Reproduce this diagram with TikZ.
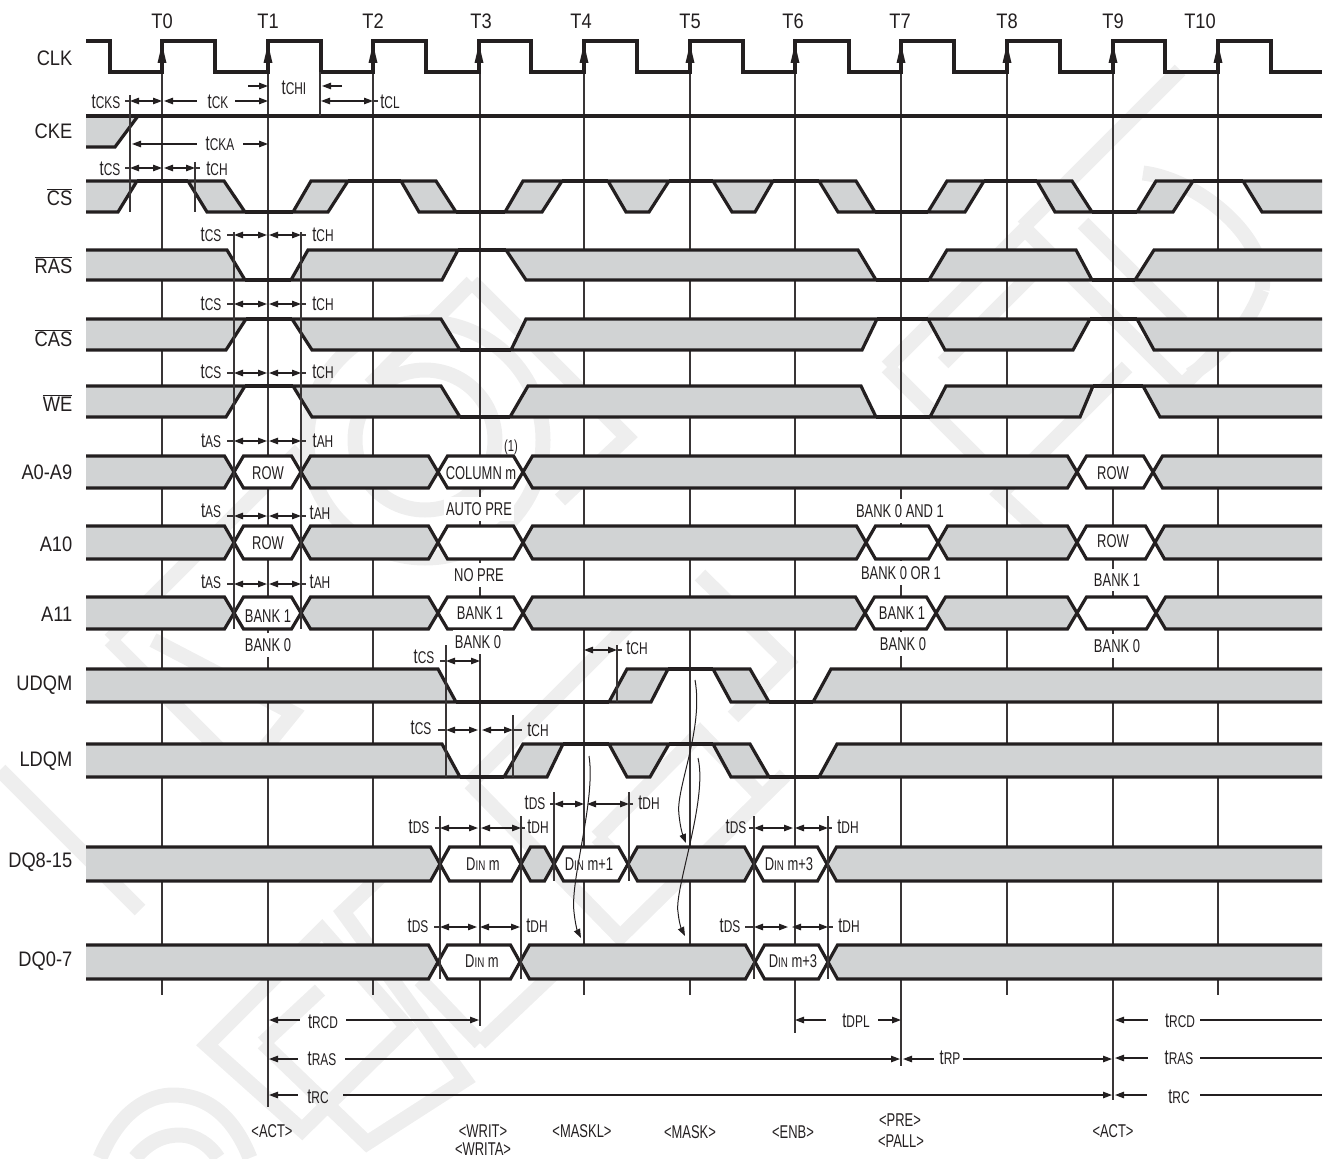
\documentclass[tikz,border=0pt]{standalone}
\usepackage{fontspec}
\setmainfont{Liberation Sans}[FakeStretch=0.87]
\newfontfamily\cf{Liberation Sans}[FakeStretch=0.7]
\usetikzlibrary{arrows.meta,calc}
\definecolor{ink}{HTML}{231F20}
\definecolor{gr}{HTML}{D1D3D4}
\definecolor{wm}{HTML}{EEEEEE}
\newcounter{nn}
\newcommand{\fsz}[1]{\fontsize{#1}{#1}\selectfont}
% t-parameter label: large t, small capitals
\newcommand{\tp}[1]{{\cf\fsz{21}t\fsz{17}#1}}
\newcommand{\Din}{{\cf\fsz{18.5}D\fsz{14}IN\fsz{18.5}}}
\newcommand{\Lb}[3]{\stepcounter{nn}\node[txt] (n\arabic{nn}) at (#1,#2) {#3};}
\newcommand{\Lw}[3]{\stepcounter{nn}\node[txt,fill=white,inner xsep=2pt,inner ysep=5pt] (n\arabic{nn}) at (#1,#2) {\cf\fsz{18.5}#3};}
\newcommand{\Lc}[3]{\stepcounter{nn}\node[txt] (n\arabic{nn}) at (#1,#2) {\cf\fsz{18.5}#3};}
\newcommand{\Sig}[2]{\stepcounter{nn}\node[txt,anchor=east] (n\arabic{nn}) at (72.5,#1) {\normalfont\fsz{21}#2};}
\newcommand{\Cmd}[3]{\stepcounter{nn}\node[txt] (n\arabic{nn}) at (#1,#2) {\cf\fsz{18.5}#3};}
\newcommand{\Clk}[2]{\stepcounter{nn}\node[txt] (n\arabic{nn}) at (#1,21) {\normalfont\fsz{21}#2};}
\newcommand{\Ln}[3]{\draw[sg] (#2,#1) -- (#3,#1);}
\newcommand{\Q}[6]{\draw[sg,fill=gr] (#3,#1) -- (#4,#1) -- (#5,#2) -- (#6,#2) -- cycle;}
\newcommand{\LG}[4]{\fill[gr] (86,#1) -- (#3,#1) -- (#4,#2) -- (86,#2) -- cycle;\draw[sg] (86,#1) -- (#3,#1) -- (#4,#2) -- (86,#2);}
\newcommand{\RG}[4]{\fill[gr] (1322,#1) -- (#3,#1) -- (#4,#2) -- (1322,#2) -- cycle;\draw[sg] (1322,#1) -- (#3,#1) -- (#4,#2) -- (1322,#2);}
\newcommand{\BH}[5]{\draw[sg,fill=#5] (#3,{(#1+#2)/2}) -- ({#3+9.5},#1) -- ({#4-9.5},#1) -- (#4,{(#1+#2)/2}) -- ({#4-9.5},#2) -- ({#3+9.5},#2) -- cycle;}
\newcommand{\BL}[3]{\fill[gr] (86,#1) -- ({#3-9.5},#1) -- (#3,{(#1+#2)/2}) -- ({#3-9.5},#2) -- (86,#2) -- cycle;\draw[sg] (86,#1) -- ({#3-9.5},#1) -- (#3,{(#1+#2)/2}) -- ({#3-9.5},#2) -- (86,#2);}
\newcommand{\BR}[3]{\fill[gr] (1322,#1) -- ({#3+9.5},#1) -- (#3,{(#1+#2)/2}) -- ({#3+9.5},#2) -- (1322,#2) -- cycle;\draw[sg] (1322,#1) -- ({#3+9.5},#1) -- (#3,{(#1+#2)/2}) -- ({#3+9.5},#2) -- (1322,#2);}
\newcommand{\Vv}[3]{\draw[vl] (#1,#2) -- (#1,#3);}
\newcommand{\DA}[3]{\draw[ar,{Tri}-{Tri}] (#1,#3) -- (#2,#3);}
\newcommand{\Tk}[3]{\draw[vl] (#1,#3) -- (#2,#3);}
\tikzset{
  Tri/.tip={Triangle[length=9pt,width=6.5pt]},
  txt/.style={inner sep=0pt,text=ink,font=\cf},
  sg/.style={draw=ink,line width=3.2pt,line join=miter,miter limit=3,line cap=butt},
  vl/.style={draw=ink!90,line width=1.2pt},
  ar/.style={draw=ink,line width=1.2pt},
  wmk/.style={draw=wm,line width=15pt,line join=miter},
}
\begin{document}
\begin{tikzpicture}[x=1pt,y=-1pt]
\useasboundingbox (0,0) rectangle (1329,1158);
% ---- faint watermark
\begin{scope}
\clip (0,0) rectangle (1329,1158);
\draw[wmk] (110,640) -- (300,450);
\draw[wmk] (110,640) -- (240,770);
\draw[wmk] (425,440) circle (118);
\draw[wmk] (425,440) circle (70);
\draw[wmk] (472,282) -- (627,437) -- (560,500);
\draw[wmk] (472,282) -- (370,385);
\draw[wmk] (1023,227) -- (1180,70);
\draw[wmk] (1023,227) -- (1182,386) -- (1250,318);
\draw[wmk] (1083,223) -- (1182,322);
\draw[wmk] (1143,173) .. controls (1200,180) and (1270,240) .. (1262,290);
\draw[wmk] (1262,290) .. controls (1250,320) and (1230,350) .. (1190,375);
\draw[wmk] (887,367) -- (1030,224);
\draw[wmk] (887,367) -- (1010,490);
\draw[wmk] (943,363) -- (1053,253);
\draw[wmk] (1127,367) -- (1000,494) -- (1060,550);
\draw[wmk] (470,783) -- (633,620);
\draw[wmk] (470,783) -- (620,937) -- (785,775);
\draw[wmk] (597,837) -- (700,733) -- (765,800);
\draw[wmk] (597,837) -- (625,865);
\draw[wmk] (700,575) -- (788,662) -- (733,717);
\draw[wmk] (207,1045) -- (322,930) -- (407,1027) -- (302,1130) -- cycle;
\draw[wmk] (263,1043) -- (320,990);
\draw[wmk] (263,1043) -- (367,1143) -- (465,1080) -- (343,912) -- (382,875);
\draw[wmk] (480,1043) -- (557,970);
\draw[wmk] (480,1043) -- (420,980);
\draw[wmk] (100,1158) .. controls (120,1110) and (150,1095) .. (173,1095) .. controls (210,1095) and (235,1120) .. (250,1158);
\draw[wmk] (135,1158) .. controls (150,1140) and (165,1135) .. (180,1135) .. controls (195,1135) and (210,1145) .. (218,1158);
\draw[wmk] (0,770) -- (140,910);
\draw[wmk] (153,640) -- (293,713) -- (263,750);
\end{scope}
% ---- clock ticks (vertical lines)
\foreach \x/\b in {162/995,268/1107,373/995,480/1026,584/995,690/995,795/1033,901/1066,1007/995,1113/1100,1218/995}
  \draw[vl] (\x,72) -- (\x,\b);
% ---- CLK
\draw[sg,line width=3.2pt] (86,41) -- (110,41) -- (110,72) -- (162,72) -- (162,41) -- (215,41) -- (215,72) -- (268,72) -- (268,41) -- (321,41) -- (321,72) -- (373,72) -- (373,41) -- (426,41) -- (426,72) -- (479,72) -- (479,41) -- (531,41) -- (531,72) -- (584,72) -- (584,41) -- (637,41) -- (637,72) -- (690,72) -- (690,41) -- (743,41) -- (743,72) -- (795,72) -- (795,41) -- (849,41) -- (849,72) -- (901,72) -- (901,41) -- (954,41) -- (954,72) -- (1007,72) -- (1007,41) -- (1060,41) -- (1060,72) -- (1113,72) -- (1113,41) -- (1165,41) -- (1165,72) -- (1218,72) -- (1218,41) -- (1271,41) -- (1271,72) -- (1322,72);
\foreach \x in {162,268,373,479,584,690,795,901,1007,1113,1218}
  \fill[ink] (\x,44) -- (\x+4.5,63) -- (\x-4.5,63) -- cycle;
% ---- CKE
\fill[gr] (86,116) -- (138,116) -- (115,147) -- (86,147) -- cycle;
\draw[sg] (86,147) -- (115,147) -- (138,116);
\Ln{116}{86}{1322}
% ---- CS
\LG{181}{212}{137}{118}
\Ln{181}{137}{188}\Ln{181}{348}{401}\Ln{181}{562}{608}\Ln{181}{669}{713}\Ln{181}{773}{819}\Ln{181}{984}{1037}\Ln{181}{1193}{1243}
\Ln{212}{245}{293}\Ln{212}{456}{505}\Ln{212}{875}{928}\Ln{212}{1092}{1137}
\Q{181}{212}{188}{224}{245}{207}
\Q{181}{212}{311}{348}{328}{293}
\Q{181}{212}{401}{436}{456}{419}
\Q{181}{212}{523}{562}{542}{505}
\Q{181}{212}{608}{669}{649}{626}
\Q{181}{212}{713}{773}{755}{732}
\Q{181}{212}{819}{856}{875}{838}
\Q{181}{212}{947}{984}{965}{928}
\Q{181}{212}{1037}{1072}{1092}{1055}
\Q{181}{212}{1156}{1193}{1173}{1137}
\RG{181}{212}{1243}{1262}
% ---- RAS
\LG{250}{280}{227}{245}
\Ln{280}{245}{291}\Ln{250}{458}{506}\Ln{280}{876}{929}\Ln{280}{1092}{1135}
\Q{250}{280}{308}{458}{442}{291}
\Q{250}{280}{506}{858}{876}{526}
\Q{250}{280}{947}{1076}{1092}{929}
\RG{250}{280}{1154}{1135}
% ---- CAS
\LG{319}{350}{246}{226}
\Ln{319}{246}{292}\Ln{350}{460}{511}\Ln{319}{877}{928}\Ln{319}{1090}{1137}
\Q{319}{350}{292}{441}{460}{312}
\Q{319}{350}{526}{877}{862}{511}
\Q{319}{350}{928}{1090}{1073}{945}
\RG{319}{350}{1137}{1154}
% ---- WE
\LG{386}{417}{245}{226}
\Ln{386}{245}{293}\Ln{417}{460}{510}\Ln{417}{876}{930}\Ln{386}{1093}{1143}
\Q{386}{417}{293}{441}{460}{312}
\Q{386}{417}{528}{861}{876}{510}
\Q{386}{417}{946}{1093}{1080}{930}
\RG{386}{417}{1143}{1160}
% ---- A0-A9
\BL{456}{488}{234}\BH{456}{488}{234}{301}{white}\BH{456}{488}{301}{438}{gr}\BH{456}{488}{438}{523}{white}\BH{456}{488}{523}{1077}{gr}\BH{456}{488}{1077}{1153}{white}\BR{456}{488}{1153}
% ---- A10
\BL{526}{559}{234}\BH{526}{559}{234}{301}{white}\BH{526}{559}{301}{438}{gr}\BH{526}{559}{438}{523}{white}\BH{526}{559}{523}{866}{gr}\BH{526}{559}{866}{938}{white}\BH{526}{559}{938}{1077}{gr}\BH{526}{559}{1077}{1155}{white}\BR{526}{559}{1155}
% ---- A11
\BL{597}{629}{234}\BH{597}{629}{234}{301}{white}\BH{597}{629}{301}{438}{gr}\BH{597}{629}{438}{523}{white}\BH{597}{629}{523}{865}{gr}\BH{597}{629}{865}{936}{white}\BH{597}{629}{936}{1077}{gr}\BH{597}{629}{1077}{1156}{white}\BR{597}{629}{1156}
% ---- UDQM
\LG{669}{702}{438}{456}
\Ln{702}{456}{609}\Ln{669}{668}{713}\Ln{702}{769}{813}
\Q{669}{702}{627}{668}{651}{609}
\Q{669}{702}{713}{750}{769}{731}
\RG{669}{702}{831}{813}
% ---- LDQM
\LG{744}{777}{442}{460}
\Ln{777}{460}{504}\Ln{744}{563}{609}\Ln{744}{669}{713}\Ln{777}{769}{819}
\Q{744}{777}{523}{563}{547}{504}
\Q{744}{777}{609}{669}{650}{627}
\Q{744}{777}{713}{750}{769}{731}
\RG{744}{777}{837}{819}
% ---- DQ8-15
\BL{847}{881}{440}\BH{847}{881}{440}{521}{white}\BH{847}{881}{521}{554}{gr}\BH{847}{881}{554}{628}{white}\BH{847}{881}{628}{754}{gr}\BH{847}{881}{754}{827}{white}\BR{847}{881}{827}
% ---- DQ0-7
\BL{945}{979}{438}\BH{945}{979}{438}{520}{white}\BH{945}{979}{520}{755}{gr}\BH{945}{979}{755}{828}{white}\BR{945}{979}{828}
% ---- reference verticals over the signals
\Vv{130}{95}{212}\Vv{195}{162}{212}\Vv{320}{72}{116}
\Vv{234}{232}{629}\Vv{301}{232}{629}
\Vv{446}{645}{777}\Vv{513}{715}{777}\Vv{617}{645}{702}
\Vv{554}{792}{881}\Vv{629}{792}{881}
\Vv{440}{816}{979}\Vv{521}{816}{979}\Vv{754}{816}{979}\Vv{828}{816}{979}
% ---- clock names
\Clk{162}{T0}\Clk{268}{T1}\Clk{373}{T2}\Clk{481}{T3}\Clk{581}{T4}\Clk{690}{T5}\Clk{793}{T6}\Clk{900}{T7}\Clk{1007}{T8}\Clk{1113}{T9}\Clk{1200}{T10}
% ---- signal names
\Sig{58}{CLK}\Sig{131}{CKE}
\Sig{197}{$\overline{\mbox{CS}}$}\Sig{265}{$\overline{\mbox{RAS}}$}\Sig{338}{$\overline{\mbox{CAS}}$}\Sig{403}{$\overline{\mbox{WE}}$}
\Sig{472}{A0-A9}\Sig{544}{A10}\Sig{614}{A11}\Sig{685}{UDQM}\Sig{761}{LDQM}\Sig{862}{DQ8-15}\Sig{961}{DQ0-7}
% ---- bus texts
\Lc{268}{473}{ROW}\Lc{481}{473}{COLUMN m}\Lc{268}{543}{ROW}\Lc{268}{616}{BANK 1}\Lc{480}{613}{BANK 1}\Lc{902}{613}{BANK 1}\Lc{1113}{473}{ROW}\Lc{1113}{541}{ROW}
\stepcounter{nn}\node[txt] (n\arabic{nn}) at (511,447) {\cf\fsz{16}(1)};
\Lw{479}{509}{AUTO PRE}\Lw{479}{575}{NO PRE}\Lw{268}{645}{BANK 0}\Lw{478}{642}{BANK 0}
\Lw{900}{511}{BANK 0 AND 1}\Lw{901}{573}{BANK 0 OR 1}\Lw{903}{644}{BANK 0}\Lw{1117}{580}{BANK 1}\Lw{1117}{646}{BANK 0}
\Lc{483}{864}{\Din{} m}\Lc{589}{864}{\Din{} m+1}\Lc{789}{864}{\Din{} m+3}\Lc{482}{961}{\Din{} m}\Lc{793}{961}{\Din{} m+3}
% ---- commands
\Cmd{272}{1131}{<ACT>}\Cmd{483}{1131}{<WRIT>}\Cmd{483}{1149.5}{<WRITA>}\Cmd{582}{1131}{<MASKL>}\Cmd{690}{1132}{<MASK>}\Cmd{793}{1132}{<ENB>}\Cmd{900}{1120}{<PRE>}\Cmd{901}{1141}{<PALL>}\Cmd{1113}{1131}{<ACT>}
% ---- timing labels, upper part
\Lb{106}{102}{\tp{CKS}}\Lb{218}{102}{\tp{CK}}\Lb{294}{88}{\tp{CHI}}\Lb{390}{102}{\tp{CL}}\Lb{220}{144}{\tp{CKA}}
\Tk{125}{130}{101}\DA{130}{162}{101}
\draw[ar,{Tri}-] (164,101) -- (197,101);\draw[ar,-{Tri}] (235,101) -- (268,101);
\draw[ar,-{Tri}] (248,86) -- (268,86);\draw[ar,-{Tri}] (342,86) -- (322,86);
\DA{321}{373}{101}\Tk{373}{378}{101}
\draw[ar,{Tri}-] (132,144) -- (197,144);\draw[ar,-{Tri}] (243,144) -- (268,144);
\Lb{110}{169}{\tp{CS}}\Lb{217}{169}{\tp{CH}}\Tk{125}{130}{168}\DA{130}{162}{168}\DA{164}{195}{168}\Tk{195}{200}{168}
\foreach \yy/\ty/\a/\ya/\b/\xb in {235/235/CS/235/CH/323,304/304/CS/304/CH/323,373/372/CS/372/CH/323,441/441/AS/441/AH/323,516/511/AS/513/AH/320,584/582/AS/582/AH/320}{
  \stepcounter{nn}\node[txt] (n\arabic{nn}) at (211,\ty) {\tp{\a}};
  \stepcounter{nn}\node[txt] (n\arabic{nn}) at (\xb,\ya) {\tp{\b}};
  \Tk{227}{234}{\yy}\DA{234}{267}{\yy}\DA{269}{301}{\yy}\Tk{301}{306}{\yy}
}
% ---- timing labels, DQM
\Lb{424}{657}{\tp{CS}}\Tk{440}{446}{661}\DA{446}{480}{661}
\Lb{421}{728}{\tp{CS}}\Tk{438}{446}{730}\DA{446}{478}{730}\DA{482}{513}{730}\Tk{513}{522}{730}\Lb{538}{730}{\tp{CH}}
\DA{584}{617}{650}\Tk{617}{622}{650}\Lb{637}{648}{\tp{CH}}
% ---- timing labels, DQ
\Lb{535}{803}{\tp{DS}}\Tk{550}{554}{804}\DA{554}{584}{804}\DA{587}{629}{804}\Tk{629}{633}{804}\Lb{649}{803}{\tp{DH}}
\Lb{419}{827}{\tp{DS}}\Tk{435}{440}{828}\DA{440}{478}{828}\DA{481}{521}{828}\Tk{521}{525}{828}\Lb{538}{827}{\tp{DH}}
\Lb{736}{827}{\tp{DS}}\Tk{749}{754}{828}\DA{754}{793}{828}\DA{795}{828}{828}\Tk{828}{832}{828}\Lb{848}{827}{\tp{DH}}
\Lb{418}{926}{\tp{DS}}\Tk{434}{440}{927}\DA{440}{477}{927}\DA{480}{520}{927}\Tk{520}{522}{927}\Lb{537}{926}{\tp{DH}}
\Lb{730}{926}{\tp{DS}}\Tk{745}{754}{927}\DA{754}{788}{927}\DA{792}{828}{927}\Tk{828}{833}{927}\Lb{849}{926}{\tp{DH}}
% ---- curved arrows
\draw[ar,line width=1pt,-{Tri}] (589,756) .. controls (596,800) and (570,880) .. (574,912) .. controls (575,922) and (577,930) .. (581,938);
\draw[ar,line width=1pt,-{Tri}] (695,680) .. controls (704,730) and (675,790) .. (679,815) .. controls (680,825) and (682,833) .. (686,843);
\draw[ar,line width=1pt,-{Tri}] (698,758) .. controls (708,800) and (674,890) .. (678,912) .. controls (679,922) and (681,928) .. (685,936);
% ---- timing labels, bottom
\Lb{323}{1022}{\tp{RCD}}\draw[ar,{Tri}-] (269,1020) -- (300,1020);\draw[ar,-{Tri}] (346,1020) -- (479,1020);
\Lb{322}{1059}{\tp{RAS}}\draw[ar,{Tri}-] (269,1059) -- (298,1059);\draw[ar,-{Tri}] (345,1059) -- (900,1059);
\Lb{318}{1097}{\tp{RC}}\draw[ar,{Tri}-] (269,1095) -- (298,1095);\draw[ar,-{Tri}] (343,1095) -- (1112,1095);
\Lb{856}{1021}{\tp{DPL}}\draw[ar,{Tri}-] (795,1020) -- (826,1020);\draw[ar,-{Tri}] (878,1020) -- (901,1020);
\Lb{950}{1058}{\tp{RP}}\draw[ar,{Tri}-] (903,1059) -- (934,1059);\draw[ar,-{Tri}] (963,1059) -- (1112,1059);
\Lb{1180}{1021}{\tp{RCD}}\draw[ar,{Tri}-] (1115,1020) -- (1148,1020);\draw[ar] (1200,1020) -- (1322,1020);
\Lb{1179}{1058}{\tp{RAS}}\draw[ar,{Tri}-] (1115,1058) -- (1148,1058);\draw[ar] (1200,1058) -- (1322,1058);
\Lb{1179}{1097}{\tp{RC}}\draw[ar,{Tri}-] (1115,1095) -- (1147,1095);\draw[ar] (1200,1095) -- (1322,1095);
\end{tikzpicture}
\end{document}
